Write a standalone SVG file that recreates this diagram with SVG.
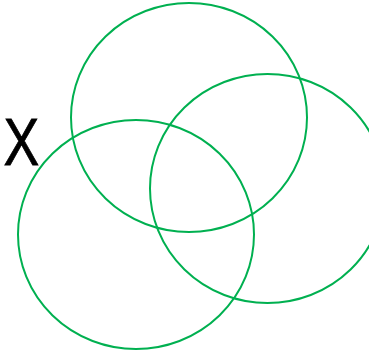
<svg xmlns="http://www.w3.org/2000/svg" width="369" height="356" viewBox="0 0 369 356">
<style>
.c{fill:none;stroke:#00b050;stroke-width:2}
.t{font-family:"Liberation Sans",Arial,sans-serif;font-size:67px;fill:#000;stroke:#000;stroke-width:0.8}
</style>
<rect width="369" height="356" fill="#fff"/>
<g id="label-x"><text class="t" transform="translate(3.5,164.6) scale(0.8,1)" x="0" y="0">X</text></g>
<g id="circle-top"><ellipse class="c" cx="189" cy="117.5" rx="118" ry="114.5"/></g>
<g id="circle-right"><ellipse class="c" cx="267.5" cy="188.5" rx="117.5" ry="114.5"/></g>
<g id="circle-left"><ellipse class="c" cx="136" cy="234.5" rx="118" ry="114.5"/></g>
<g id="connectors"/>
</svg>
